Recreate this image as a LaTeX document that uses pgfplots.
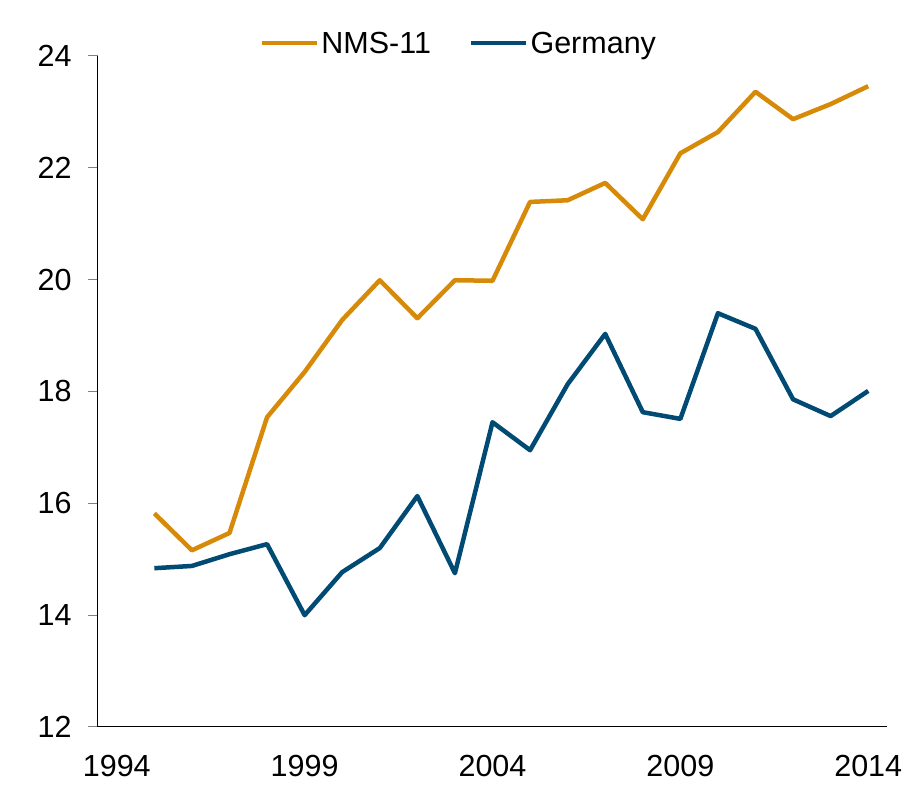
\documentclass[border=0pt]{standalone}
\usepackage{fontspec}
\setmainfont{Liberation Sans}
\usepackage{pgfplots}
\pgfplotsset{compat=1.18}
\definecolor{nmsorange}{RGB}{214,138,8}
\definecolor{gerblue}{RGB}{0,74,115}
\begin{document}
\begin{tikzpicture}
\path[use as bounding box] (-98pt,-73pt) rectangle (816pt,727pt);
\begin{axis}[
  at={(0,0)}, anchor=south west,
  scale only axis, width=789pt, height=671pt,
  xmin=1993.5, xmax=2014.5, ymin=12, ymax=24,
  xtick={1994,1999,2004,2009,2014},
  ytick={12,14,16,18,20,22,24},
  axis x line*=bottom, axis y line*=left,
  axis line style={black, line width=1pt},
  x axis line style={-}, y axis line style={-},
  tick style={gray, line width=1pt},
  xtick style={draw=none},
  major tick length=10pt,
  tick align=outside,
  ticklabel style={font=\fontsize{30.5}{36}\selectfont},
  xticklabel style={yshift=-15pt},
  yticklabel style={xshift=-13pt},
  /pgf/number format/assume math mode=true,
  /pgf/number format/1000 sep={},
  legend style={draw=none, fill=none, at={(0.4575,1.019)}, anchor=center,
    font=\fontsize{30.5}{36}\selectfont, legend columns=2,
    /tikz/every even column/.append style={column sep=36pt}},
  legend image code/.code={\draw[#1, line width=4.5pt] (0pt,0pt) -- (55pt,0pt);},
  clip=false,
]
\addplot[nmsorange, line width=4.5pt, line join=round] coordinates {
(1995,15.82) (1996,15.16) (1997,15.47) (1998,17.54) (1999,18.35)
(2000,19.28) (2001,19.99) (2002,19.31) (2003,19.99) (2004,19.98)
(2005,21.39) (2006,21.42) (2007,21.73) (2008,21.08) (2009,22.26)
(2010,22.64) (2011,23.36) (2012,22.87) (2013,23.14) (2014,23.46)};
\addlegendentry{NMS-11}
\addplot[gerblue, line width=4.5pt, line join=round] coordinates {
(1995,14.84) (1996,14.88) (1997,15.09) (1998,15.27) (1999,14.00)
(2000,14.77) (2001,15.20) (2002,16.13) (2003,14.75) (2004,17.45)
(2005,16.95) (2006,18.13) (2007,19.03) (2008,17.63) (2009,17.51)
(2010,19.40) (2011,19.12) (2012,17.86) (2013,17.56) (2014,18.01)};
\addlegendentry{Germany}
\end{axis}
\end{tikzpicture}
\end{document}
